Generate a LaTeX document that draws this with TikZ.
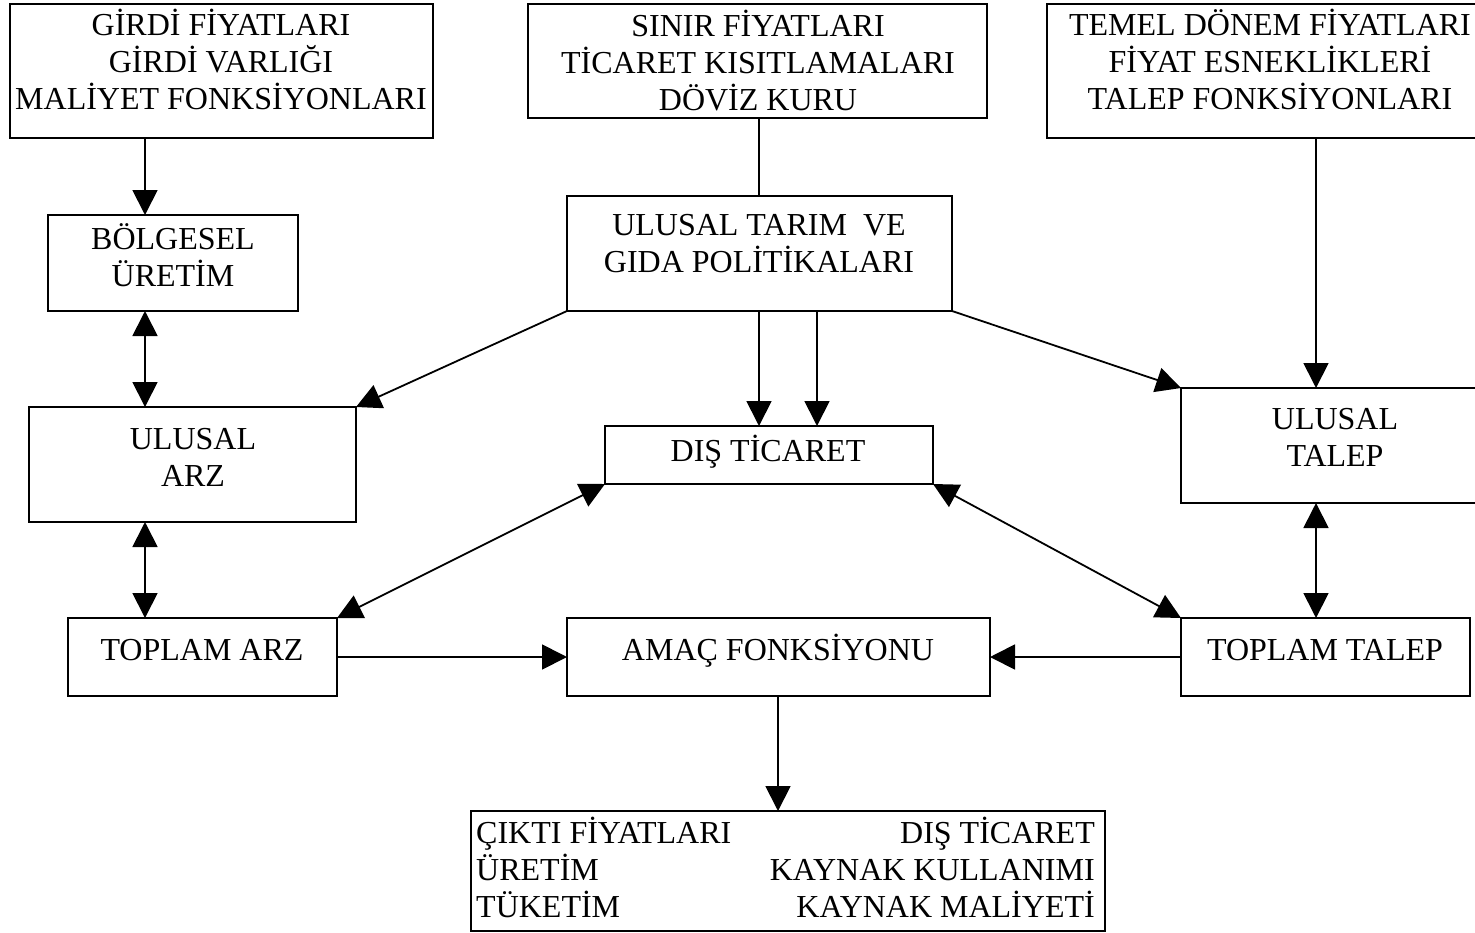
\documentclass[tikz,border=0pt]{standalone}
\usepackage{fontspec}
\setmainfont{Liberation Serif}
\usetikzlibrary{arrows.meta}
\newcommand\cbox[1]{\vtop{\let\\\cr\halign{\hfil##\hfil\cr#1\crcr}}}
\newcommand\lbox[1]{\vtop{\let\\\cr\halign{##\hfil\cr#1\crcr}}}
\newcommand\rbox[1]{\vtop{\let\\\cr\halign{\hfil##\cr#1\crcr}}}
\begin{document}
\begin{tikzpicture}[x=1pt,y=-1pt,
  box/.style={draw, line width=2.6pt, inner sep=0pt, outer sep=0pt, anchor=north west},
  txt/.style={inner sep=0pt, font=\fontsize{32}{37}\selectfont},
  conn/.style={line width=1.8pt},
  arr/.style={conn, -{Triangle[length=25pt,width=25pt]}},
  darr/.style={conn, {Triangle[length=25pt,width=25pt]}-{Triangle[length=25pt,width=25pt]}}]
\fill[white] (0,0) rectangle (1475,932);
\useasboundingbox (0,0) rectangle (1475,932);
% boxes
\node[box, minimum width=423pt, minimum height=134pt] (girdi) at (10,4) {};
\node[box, minimum width=250pt, minimum height=96pt] (bolge) at (48,215) {};
\node[box, minimum width=459pt, minimum height=114pt] (sinir) at (528,4) {};
\node[box, minimum width=385pt, minimum height=115pt] (pol) at (567,196) {};
\node[box, minimum width=446pt, minimum height=134pt] (temel) at (1047,4) {};
\node[box, minimum width=327pt, minimum height=115pt] (uarz) at (29,407) {};
\node[box, minimum width=328pt, minimum height=58pt] (dis) at (605,426) {};
\node[box, minimum width=312pt, minimum height=115pt] (utalep) at (1181,388) {};
\node[box, minimum width=269pt, minimum height=78pt] (tarz) at (68,618) {};
\node[box, minimum width=423pt, minimum height=78pt] (amac) at (567,618) {};
\node[box, minimum width=289pt, minimum height=78pt] (ttalep) at (1181,618) {};
\node[box, minimum width=634pt, minimum height=120pt] (result) at (471,811) {};
% texts
\node[txt, anchor=base] (girdi-t) at (221,35) {\cbox{GİRDİ FİYATLARI\\GİRDİ VARLIĞI\\MALİYET FONKSİYONLARI}};
\node[txt, anchor=base] (bolge-t) at (173,249) {\cbox{BÖLGESEL\\ÜRETİM}};
\node[txt, anchor=base] (sinir-t) at (758,36) {\cbox{SINIR FİYATLARI\\TİCARET KISITLAMALARI\\DÖVİZ KURU}};
\node[txt, anchor=base] (pol-t) at (759,235) {\cbox{ULUSAL TARIM~ VE\\GIDA POLİTİKALARI}};
\node[txt, anchor=base] (temel-t) at (1270,35) {\cbox{TEMEL DÖNEM FİYATLARI\\FİYAT ESNEKLİKLERİ\\TALEP FONKSİYONLARI}};
\node[txt, anchor=base] (uarz-t) at (193,449) {\cbox{ULUSAL\\ARZ}};
\node[txt, anchor=base] (dis-t) at (768,461) {DIŞ TİCARET};
\node[txt, anchor=base] (utalep-t) at (1335,429) {\cbox{ULUSAL\\TALEP}};
\node[txt, anchor=base] (tarz-t) at (202,660) {TOPLAM ARZ};
\node[txt, anchor=base] (amac-t) at (778,660) {AMAÇ FONKSİYONU};
\node[txt, anchor=base] (ttalep-t) at (1325,660) {TOPLAM TALEP};
\node[txt, anchor=base west] (res-l) at (476,843) {\lbox{ÇIKTI FİYATLARI\\ÜRETİM\\TÜKETİM}};
\node[txt, anchor=base east] (res-r) at (1095,843) {\rbox{DIŞ TİCARET\\KAYNAK KULLANIMI\\KAYNAK MALİYETİ}};
% guide coordinates
\coordinate (xa) at (145,0);
\coordinate (xb) at (759,0);
\coordinate (xc) at (817,0);
\coordinate (xd) at (1316,0);
\coordinate (xe) at (778,0);
\coordinate (yh) at (0,657);
% connectors
\draw[arr] (girdi.south -| xa) -- (bolge.north -| xa);
\draw[darr] (bolge.south -| xa) -- (uarz.north -| xa);
\draw[darr] (uarz.south -| xa) -- (tarz.north -| xa);
\draw[arr] (tarz.east |- yh) -- (amac.west |- yh);
\draw[conn] (sinir.south -| xb) -- (pol.north -| xb);
\draw[arr] (pol.south -| xb) -- (dis.north -| xb);
\draw[arr] (pol.south -| xc) -- (dis.north -| xc);
\draw[arr] (pol.south west) -- (uarz.north east);
\draw[arr] (pol.south east) -- (utalep.north west);
\draw[darr] (dis.south west) -- (tarz.north east);
\draw[darr] (dis.south east) -- (ttalep.north west);
\draw[arr] (temel.south -| xd) -- (utalep.north -| xd);
\draw[darr] (utalep.south -| xd) -- (ttalep.north -| xd);
\draw[arr] (ttalep.west |- yh) -- (amac.east |- yh);
\draw[arr] (amac.south -| xe) -- (result.north -| xe);
\end{tikzpicture}
\end{document}
